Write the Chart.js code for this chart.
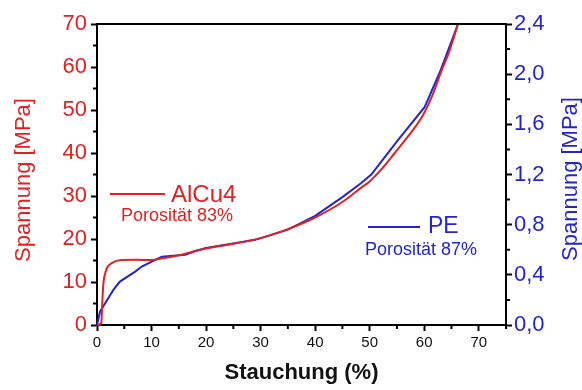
<!DOCTYPE html>
<html>
<head>
<meta charset="utf-8">
<script src="https://cdn.jsdelivr.net/npm/chart.js@4.4.1/dist/chart.umd.min.js"></script>
<style>
    html, body { margin: 0; padding: 0; background: #fff; }
    #wrap { width: 582px; height: 390px; }
</style>
</head>
<body>
<div id="wrap"><canvas id="chart"></canvas></div>
<script>
// AlCu4 foam, left axis [MPa]
const alcuStrain = [0, 0.8, 0.9, 1.0, 1.2, 1.5, 1.8, 2.7, 4.5, 7, 10, 12, 15, 20, 25, 30, 35, 40, 45, 48.4, 50, 52, 54.6, 57, 58.5, 60, 61.5, 63.2, 64.7, 66.2];
const alcuStress = [0, 0.5, 3, 6, 10, 12, 13.2, 14.4, 15.1, 15.15, 15.1, 15.5, 16.2, 17.8, 18.9, 20.2, 22.3, 25, 28.6, 31.9, 33.4, 36, 40, 43.8, 46.3, 49.3, 53.4, 59.2, 64, 70];

// PE foam, right axis [MPa]
const peStrain = [0, 0.55, 2, 3, 4.2, 7, 8.2, 10.7, 11.9, 14, 16.2, 18, 20, 25, 29, 35, 40, 45, 48.4, 50.3, 55, 60.1, 63, 66.2];
const peStress = [0, 0.106, 0.21, 0.28, 0.346, 0.426, 0.466, 0.52, 0.545, 0.553, 0.56, 0.59, 0.614, 0.65, 0.679, 0.76, 0.87, 1.02, 1.13, 1.2, 1.465, 1.739, 2.03, 2.4];

// axis ticks
const xTicks = [0, 10, 20, 30, 40, 50, 60, 70];
const xMinor = [5, 15, 25, 35, 45, 55, 65, 75];
const leftTicks = [0, 10, 20, 30, 40, 50, 60, 70];
const leftMinor = [5, 15, 25, 35, 45, 55, 65];
const rightTicks = [0, 0.4, 0.8, 1.2, 1.6, 2.0, 2.4];
const rightMinor = [0.2, 0.6, 1.0, 1.4, 1.8, 2.2];

const RED = '#e02222';
const BLUE = '#2424cc';
const FONT = 'Liberation Sans, Arial, sans-serif';

const toPoints = (xs, ys) => xs.map((x, i) => ({ x: x, y: ys[i] }));

// minor ticks, top frame line, titles and in-plot labels
const decorPlugin = {
    id: 'decor',
    afterDraw(chart) {
        const ctx = chart.ctx;
        const a = chart.chartArea;
        const sx = chart.scales.x, yl = chart.scales.y, yr = chart.scales.y2;
        ctx.save();
        ctx.strokeStyle = '#000';
        ctx.lineWidth = 2;

        // top frame
        ctx.beginPath();
        ctx.moveTo(a.left - 1, a.top);
        ctx.lineTo(a.right + 1, a.top);
        ctx.stroke();

        // minor ticks
        ctx.beginPath();
        xMinor.forEach(v => {
            const p = sx.getPixelForValue(v);
            ctx.moveTo(p, a.bottom);
            ctx.lineTo(p, a.bottom + 4);
        });
        leftMinor.forEach(v => {
            const p = yl.getPixelForValue(v);
            ctx.moveTo(a.left, p);
            ctx.lineTo(a.left - 4, p);
        });
        rightMinor.forEach(v => {
            const p = yr.getPixelForValue(v);
            ctx.moveTo(a.right, p);
            ctx.lineTo(a.right + 4, p);
        });
        ctx.stroke();

        // axis titles
        ctx.textAlign = 'center';
        ctx.textBaseline = 'middle';
        ctx.font = '22px ' + FONT;

        ctx.fillStyle = RED;
        ctx.save();
        ctx.translate(24, 180);
        ctx.rotate(-Math.PI / 2);
        ctx.fillText('Spannung [MPa]', 0, 0);
        ctx.restore();

        ctx.fillStyle = BLUE;
        ctx.save();
        ctx.translate(571, 179);
        ctx.rotate(-Math.PI / 2);
        ctx.fillText('Spannung [MPa]', 0, 0);
        ctx.restore();

        ctx.fillStyle = '#111';
        ctx.font = 'bold 22px ' + FONT;
        ctx.fillText('Stauchung (%)', (a.left + a.right) / 2, 373);

        // AlCu4 label
        ctx.textAlign = 'left';
        ctx.strokeStyle = RED;
        ctx.lineWidth = 2;
        ctx.beginPath();
        ctx.moveTo(110, 194);
        ctx.lineTo(165, 194);
        ctx.stroke();
        ctx.fillStyle = RED;
        ctx.font = '24px ' + FONT;
        ctx.fillText('AlCu4', 171, 195);
        ctx.font = '18px ' + FONT;
        ctx.fillText('Porosität 83%', 121, 216);

        // PE label
        ctx.strokeStyle = BLUE;
        ctx.beginPath();
        ctx.moveTo(368, 227);
        ctx.lineTo(420, 227);
        ctx.stroke();
        ctx.fillStyle = BLUE;
        ctx.font = '23px ' + FONT;
        ctx.fillText('PE', 428, 227);
        ctx.font = '18px ' + FONT;
        ctx.fillText('Porosität 87%', 365, 250);

        ctx.restore();
    }
};

const axisGrid = {
    drawOnChartArea: false,
    drawTicks: true,
    tickLength: 6,
    tickWidth: 2,
    tickColor: '#000'
};
const axisBorder = { display: true, color: '#000', width: 2 };

new Chart(document.getElementById('chart'), {
    type: 'line',
    data: {
        datasets: [
            {
                label: 'AlCu4',
                data: toPoints(alcuStrain, alcuStress),
                yAxisID: 'y',
                borderColor: RED,
                borderWidth: 2,
                pointRadius: 0,
                cubicInterpolationMode: 'monotone',
                clip: 4
            },
            {
                label: 'PE',
                data: toPoints(peStrain, peStress),
                yAxisID: 'y2',
                borderColor: BLUE,
                borderWidth: 2,
                pointRadius: 0,
                tension: 0,
                clip: 4
            }
        ]
    },
    options: {
        responsive: true,
        maintainAspectRatio: false,
        animation: false,
        layout: { padding: { top: 24, left: 0, right: 0, bottom: 0 } },
        plugins: {
            legend: { display: false },
            tooltip: { enabled: false }
        },
        scales: {
            x: {
                type: 'linear',
                min: 0,
                max: 75,
                afterBuildTicks: s => { s.ticks = xTicks.map(v => ({ value: v })); },
                afterFit: s => { s.height = 65; },
                ticks: {
                    color: '#111',
                    font: { family: FONT, size: 15 },
                    padding: 3,
                    maxRotation: 0
                },
                grid: axisGrid,
                border: axisBorder
            },
            y: {
                position: 'left',
                min: 0,
                max: 70,
                afterBuildTicks: s => { s.ticks = leftTicks.map(v => ({ value: v })); },
                afterFit: s => { s.width = 97; },
                ticks: {
                    color: RED,
                    font: { family: FONT, size: 22 },
                    padding: 4
                },
                grid: axisGrid,
                border: axisBorder
            },
            y2: {
                position: 'right',
                min: 0,
                max: 2.4,
                afterBuildTicks: s => { s.ticks = rightTicks.map(v => ({ value: v })); },
                afterFit: s => { s.width = 76; },
                ticks: {
                    color: BLUE,
                    font: { family: FONT, size: 22 },
                    padding: 2,
                    callback: v => v.toFixed(1).replace('.', ',')
                },
                grid: axisGrid,
                border: axisBorder
            }
        }
    },
    plugins: [decorPlugin]
});
</script>
</body>
</html>
